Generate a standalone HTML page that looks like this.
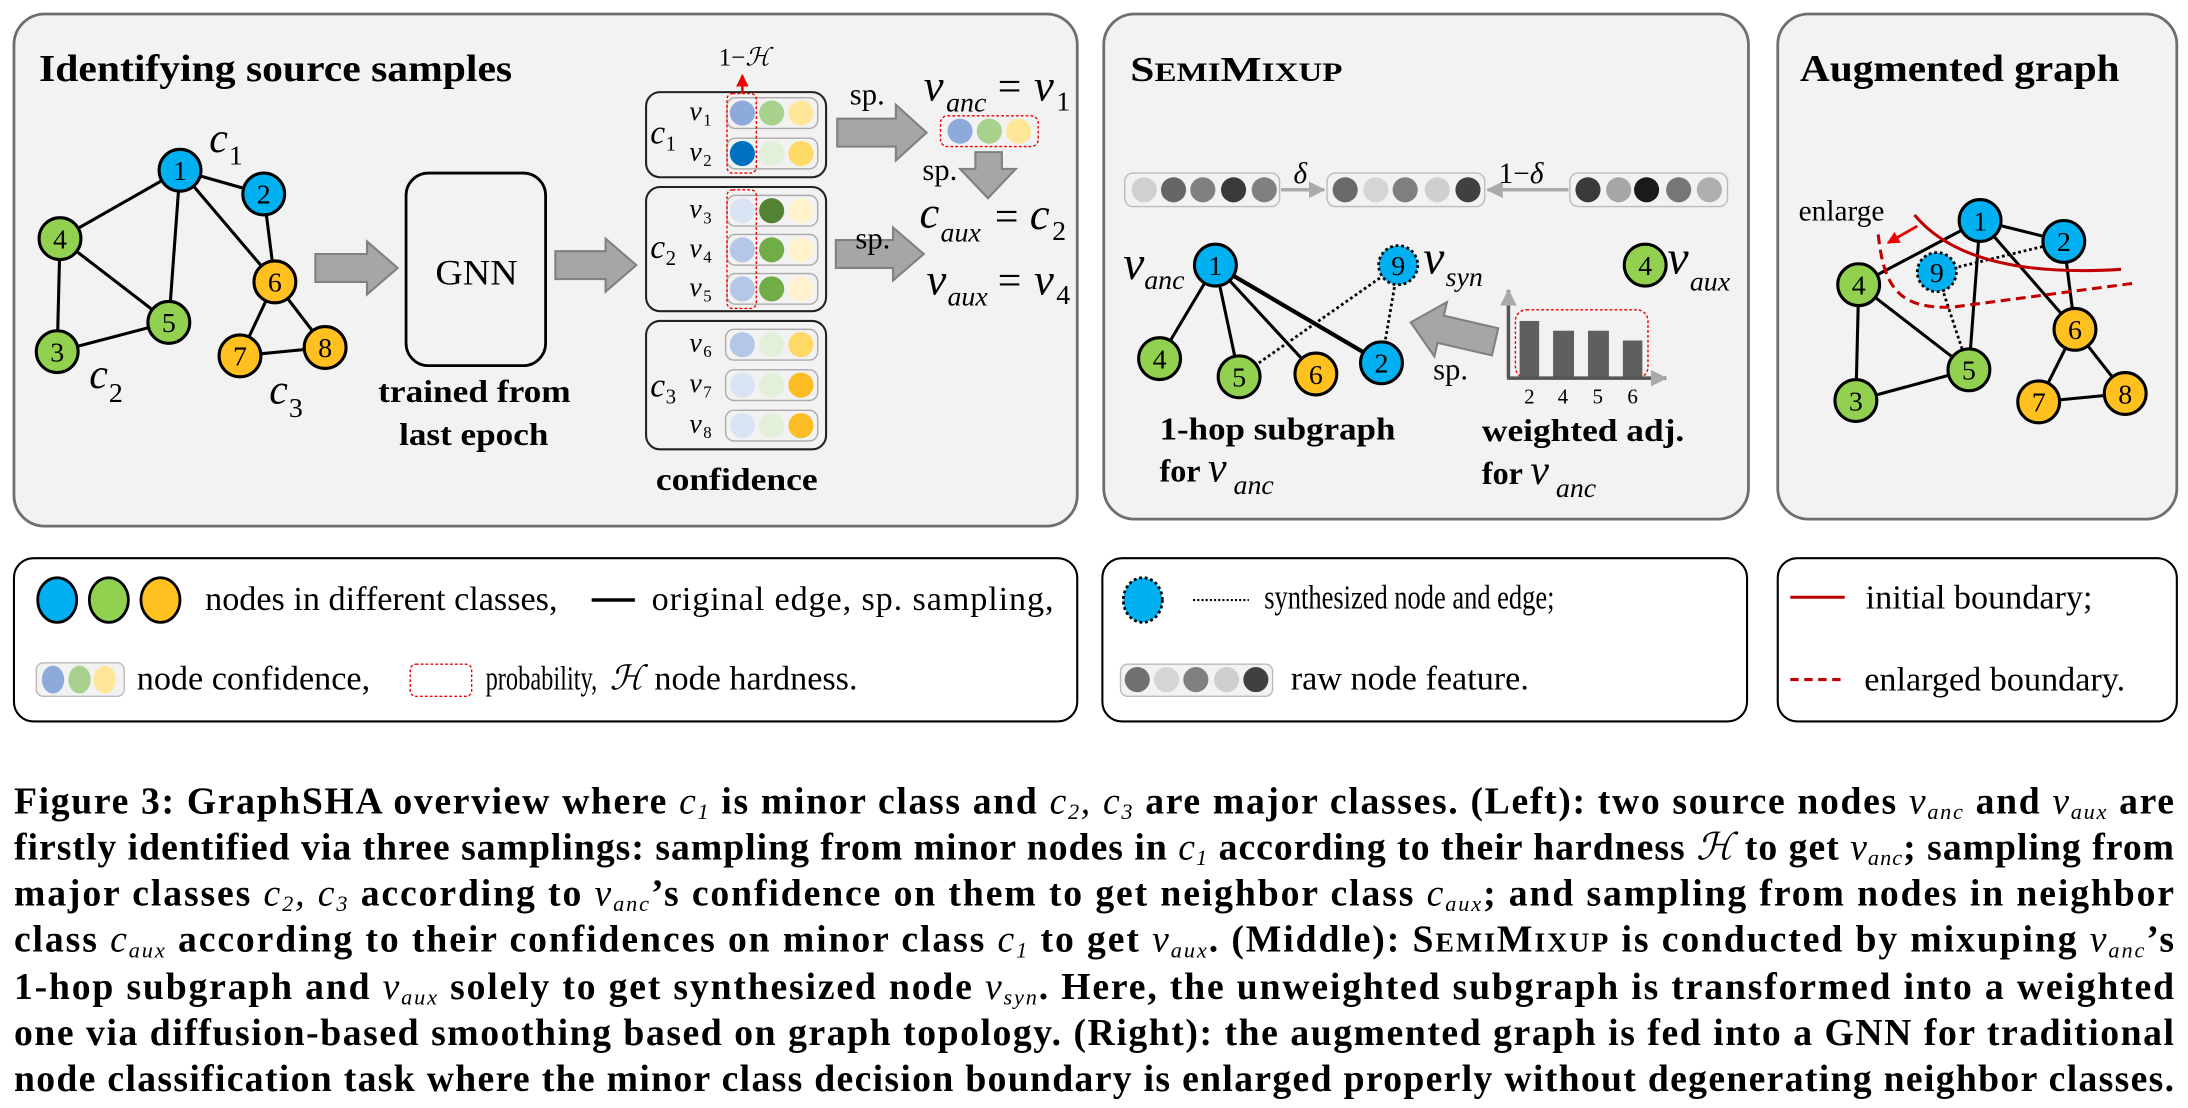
<!DOCTYPE html>
<html><head><meta charset="utf-8"><style>
html,body{margin:0;padding:0;background:#fff;}
svg{display:block;}
text{font-family:"Liberation Serif","DejaVu Serif",serif;fill:#000;}
.b{font-weight:bold;}
.i{font-style:italic;}
.m{font-style:italic;font-weight:normal;}
.s{font-size:16px;}
.nl{font-size:20px;text-anchor:middle;}
.lg{font-size:24.5px;}
</style></head><body>
<svg width="2188" height="1108" viewBox="0 0 1568 794" xmlns="http://www.w3.org/2000/svg" font-family="Liberation Serif, serif">
<defs>
<marker id="ga" markerUnits="userSpaceOnUse" markerWidth="12" markerHeight="12" refX="11" refY="6" orient="auto"><path d="M0,0 L12,6 L0,12 z" fill="#aaa"/></marker>
<marker id="ra" markerUnits="userSpaceOnUse" markerWidth="9" markerHeight="9" refX="8" refY="4.5" orient="auto"><path d="M0,0 L9,4.5 L0,9 z" fill="#e00"/></marker>
</defs>
<!-- panels -->
<rect x="10" y="10" width="762" height="367" rx="22" fill="#f2f2f2" stroke="#6e6e6e" stroke-width="2"/>
<rect x="791" y="10" width="462" height="362" rx="22" fill="#f2f2f2" stroke="#6e6e6e" stroke-width="2"/>
<rect x="1274" y="10" width="286" height="362" rx="22" fill="#f2f2f2" stroke="#6e6e6e" stroke-width="2"/>
<rect x="10" y="400" width="762" height="117" rx="14" fill="#fff" stroke="#000" stroke-width="1.5"/>
<rect x="790" y="400" width="462" height="117" rx="14" fill="#fff" stroke="#000" stroke-width="1.5"/>
<rect x="1274" y="400" width="286" height="117" rx="14" fill="#fff" stroke="#000" stroke-width="1.5"/>

<!-- Panel 1 -->
<text x="28" y="58" class="b" font-size="27" textLength="339" lengthAdjust="spacingAndGlyphs">Identifying source samples</text>
<g stroke="#000" stroke-width="2.2">
<line x1="129" y1="122" x2="43" y2="171"/><line x1="129" y1="122" x2="121" y2="231"/>
<line x1="129" y1="122" x2="189" y2="139"/><line x1="129" y1="122" x2="197" y2="202"/>
<line x1="189" y1="139" x2="197" y2="202"/><line x1="43" y1="171" x2="121" y2="231"/>
<line x1="43" y1="171" x2="41" y2="252"/><line x1="41" y1="252" x2="121" y2="231"/>
<line x1="197" y1="202" x2="172" y2="255"/><line x1="197" y1="202" x2="233" y2="249"/>
<line x1="172" y1="255" x2="233" y2="249"/>
</g>
<g stroke="#000" stroke-width="2.2">
<circle cx="129" cy="122" r="15" fill="#00b0f0"/><circle cx="189" cy="139" r="15" fill="#00b0f0"/>
<circle cx="43" cy="171" r="15" fill="#92d050"/><circle cx="121" cy="231" r="15" fill="#92d050"/>
<circle cx="41" cy="252" r="15" fill="#92d050"/><circle cx="197" cy="202" r="15" fill="#ffc020"/>
<circle cx="172" cy="255" r="15" fill="#ffc020"/><circle cx="233" cy="249" r="15" fill="#ffc020"/>
</g>
<g class="nl"><text x="129" y="129">1</text><text x="189" y="146">2</text><text x="43" y="178">4</text><text x="121" y="238">5</text><text x="41" y="259">3</text><text x="197" y="209">6</text><text x="172" y="262">7</text><text x="233" y="256">8</text></g>
<text x="150" y="109" font-size="30" class="i">c</text><text x="164" y="118" font-size="20">1</text>
<text x="64" y="278" font-size="30" class="i">c</text><text x="78" y="288" font-size="20">2</text>
<text x="193" y="289" font-size="30" class="i">c</text><text x="207" y="299" font-size="20">3</text>

<g fill="#a6a6a6" stroke="#808080" stroke-width="1.5">
<polygon points="226,182 263,182 263,173 285,192 263,211 263,202 226,202"/>
<polygon points="398,180 434,180 434,171 456,190 434,209 434,200 398,200"/>
<polygon points="600,85 642,85 642,75 664,95 642,115 642,105 600,105"/>
<polygon points="699,109 718,109 718,121 728,121 708,142 688,121 699,121"/>
<polygon points="599,172 640,172 640,163 662,182 640,201 640,192 599,192"/>
</g>
<rect x="291" y="124" width="100" height="138" rx="16" fill="none" stroke="#000" stroke-width="2"/>
<text x="312" y="204" font-size="26" textLength="59" lengthAdjust="spacingAndGlyphs">GNN</text>
<text x="271" y="288" font-size="23" class="b" textLength="138" lengthAdjust="spacingAndGlyphs">trained from</text>
<text x="286" y="319" font-size="23" class="b" textLength="107" lengthAdjust="spacingAndGlyphs">last epoch</text>

<!-- confidence -->
<g fill="none" stroke="#222" stroke-width="1.5">
<rect x="463" y="66" width="129" height="61" rx="10"/>
<rect x="463" y="134" width="129" height="89" rx="10"/>
<rect x="463" y="230" width="129" height="92" rx="10"/>
</g>
<g fill="#f2f2f2" stroke="#aaa" stroke-width="1">
<rect x="521" y="70" width="65" height="22" rx="6"/><rect x="521" y="99" width="65" height="22" rx="6"/>
<rect x="521" y="140" width="65" height="22" rx="6"/><rect x="521" y="168" width="65" height="22" rx="6"/><rect x="521" y="196" width="65" height="22" rx="6"/>
<rect x="520" y="236" width="66" height="22" rx="6"/><rect x="520" y="265" width="66" height="22" rx="6"/><rect x="520" y="294" width="66" height="22" rx="6"/>
</g>
<g>
<circle cx="532" cy="81" r="9" fill="#8eaadb"/><circle cx="553" cy="81" r="9" fill="#a9d18e"/><circle cx="574" cy="81" r="9" fill="#ffe699"/>
<circle cx="532" cy="110" r="9" fill="#0070c0"/><circle cx="553" cy="110" r="9" fill="#e2f0d9"/><circle cx="574" cy="110" r="9" fill="#ffd966"/>
<circle cx="532" cy="151" r="9" fill="#dae3f3"/><circle cx="553" cy="151" r="9" fill="#548235"/><circle cx="574" cy="151" r="9" fill="#fff2cc"/>
<circle cx="532" cy="179" r="9" fill="#b4c7e7"/><circle cx="553" cy="179" r="9" fill="#70ad47"/><circle cx="574" cy="179" r="9" fill="#fff2cc"/>
<circle cx="532" cy="207" r="9" fill="#b4c7e7"/><circle cx="553" cy="207" r="9" fill="#70ad47"/><circle cx="574" cy="207" r="9" fill="#fff2cc"/>
<circle cx="532" cy="247" r="9" fill="#b4c7e7"/><circle cx="553" cy="247" r="9" fill="#e2f0d9"/><circle cx="574" cy="247" r="9" fill="#ffd966"/>
<circle cx="532" cy="276" r="9" fill="#dae3f3"/><circle cx="553" cy="276" r="9" fill="#e2f0d9"/><circle cx="574" cy="276" r="9" fill="#fbbc24"/>
<circle cx="532" cy="305" r="9" fill="#dae3f3"/><circle cx="553" cy="305" r="9" fill="#e2f0d9"/><circle cx="574" cy="305" r="9" fill="#fbbc24"/>
</g>
<g fill="none" stroke="#e00" stroke-width="1" stroke-dasharray="2,1.5">
<rect x="521" y="67" width="21" height="57" rx="4"/>
<rect x="521" y="136" width="21" height="85" rx="4"/>
<rect x="674" y="83" width="70" height="22" rx="5"/>
<rect x="1086" y="222" width="95" height="49" rx="8"/>
</g>
<line x1="532" y1="67" x2="532" y2="54" stroke="#e00" stroke-width="1.8" marker-end="url(#ra)"/>
<text x="515" y="47" font-size="18">1−<tspan class="i">ℋ</tspan></text>
<g font-size="20" class="i">
<text x="494" y="86">v</text><text x="494" y="115">v</text><text x="494" y="156">v</text><text x="494" y="184">v</text><text x="494" y="212">v</text><text x="494" y="252">v</text><text x="494" y="281">v</text><text x="494" y="310">v</text>
</g>
<g font-size="12">
<text x="504" y="90">1</text><text x="504" y="119">2</text><text x="504" y="160">3</text><text x="504" y="188">4</text><text x="504" y="216">5</text><text x="504" y="256">6</text><text x="504" y="285">7</text><text x="504" y="314">8</text>
</g>
<g font-size="24" class="i"><text x="466" y="103">c</text><text x="466" y="185">c</text><text x="466" y="284">c</text></g>
<g font-size="15"><text x="477" y="108">1</text><text x="477" y="190">2</text><text x="477" y="289">3</text></g>
<text x="470" y="351" font-size="23" class="b" textLength="116" lengthAdjust="spacingAndGlyphs">confidence</text>
<text x="609" y="75" font-size="22">sp.</text>
<text x="661" y="129" font-size="22">sp.</text>
<text x="613" y="178" font-size="22">sp.</text>
<text x="662" y="72" font-size="32" class="i">v</text><text x="678" y="80" font-size="20" class="i">anc</text><text x="715" y="72" font-size="30">=</text><text x="741" y="72" font-size="32" class="i">v</text><text x="757" y="79" font-size="20">1</text>
<circle cx="688" cy="94" r="9" fill="#8eaadb"/><circle cx="709" cy="94" r="9" fill="#a9d18e"/><circle cx="730" cy="94" r="9" fill="#ffe699"/>
<text x="659" y="163" font-size="32" class="i">c</text><text x="674" y="173" font-size="20" class="i">aux</text><text x="713" y="165" font-size="30">=</text><text x="738" y="164" font-size="32" class="i">c</text><text x="754" y="172" font-size="20">2</text>
<text x="664" y="211" font-size="32" class="i">v</text><text x="679" y="219" font-size="20" class="i">aux</text><text x="715" y="211" font-size="30">=</text><text x="741" y="211" font-size="32" class="i">v</text><text x="757" y="218" font-size="20">4</text>

<!-- Panel 2 -->
<text x="810" y="58" class="b" font-size="25" textLength="152" lengthAdjust="spacingAndGlyphs">S<tspan font-size="19">EMI</tspan>M<tspan font-size="19">IXUP</tspan></text>
<g fill="#f2f2f2" stroke="#bbb" stroke-width="1">
<rect x="806" y="124" width="111" height="24" rx="6"/><rect x="951" y="124" width="113" height="24" rx="6"/><rect x="1125" y="124" width="113" height="24" rx="6"/>
</g>
<circle cx="820" cy="136" r="9" fill="#d0d0d0"/><circle cx="841" cy="136" r="9" fill="#666"/><circle cx="862" cy="136" r="9" fill="#808080"/><circle cx="884" cy="136" r="9" fill="#3a3a3a"/><circle cx="906" cy="136" r="9" fill="#808080"/>
<circle cx="964" cy="136" r="9" fill="#6a6a6a"/><circle cx="986" cy="136" r="9" fill="#d5d5d5"/><circle cx="1007" cy="136" r="9" fill="#7f7f7f"/><circle cx="1030" cy="136" r="9" fill="#cfcfcf"/><circle cx="1052" cy="136" r="9" fill="#404040"/>
<circle cx="1138" cy="136" r="9" fill="#3a3a3a"/><circle cx="1160" cy="136" r="9" fill="#a6a6a6"/><circle cx="1180" cy="136" r="9" fill="#1a1a1a"/><circle cx="1203" cy="136" r="9" fill="#767676"/><circle cx="1225" cy="136" r="9" fill="#afafaf"/>
<line x1="918" y1="136" x2="949" y2="136" stroke="#aaa" stroke-width="2.5" marker-end="url(#ga)"/>
<line x1="1124" y1="136" x2="1066" y2="136" stroke="#aaa" stroke-width="2.5" marker-end="url(#ga)"/>
<text x="927" y="131" font-size="21" class="i">δ</text>
<text x="1074" y="131" font-size="21">1−<tspan class="i">δ</tspan></text>

<g stroke="#000" stroke-width="2.2">
<line x1="871" y1="190" x2="831" y2="257"/><line x1="871" y1="190" x2="888" y2="270"/><line x1="871" y1="190" x2="943" y2="268"/><line x1="871" y1="190" x2="990" y2="260" stroke-width="3"/>
</g>
<g stroke="#000" stroke-width="2" stroke-dasharray="2,2"><line x1="1002" y1="190" x2="888" y2="270"/><line x1="1002" y1="190" x2="990" y2="260"/></g>
<g stroke="#000" stroke-width="2.2">
<circle cx="871" cy="190" r="15" fill="#00b0f0"/><circle cx="831" cy="257" r="15" fill="#92d050"/><circle cx="888" cy="270" r="15" fill="#92d050"/><circle cx="943" cy="268" r="15" fill="#ffc020"/><circle cx="990" cy="260" r="15" fill="#00b0f0"/><circle cx="1179" cy="190" r="15" fill="#92d050"/>
</g>
<circle cx="1002" cy="190" r="14" fill="#00b0f0" stroke="#000" stroke-width="2" stroke-dasharray="2,2"/>
<g class="nl"><text x="871" y="197">1</text><text x="831" y="264">4</text><text x="888" y="277">5</text><text x="943" y="275">6</text><text x="990" y="267">2</text><text x="1002" y="197">9</text><text x="1179" y="197">4</text></g>
<text x="805" y="200" font-size="34" class="i">v</text><text x="820" y="207" font-size="20" class="i">anc</text>
<text x="1020" y="196" font-size="34" class="i">v</text><text x="1036" y="205" font-size="20" class="i">syn</text>
<text x="1195" y="196" font-size="34" class="i">v</text><text x="1211" y="208" font-size="20" class="i">aux</text>
<g transform="translate(1011,231) rotate(13)"><polygon points="0,0 22,-20 22,-10 62,-10 62,10 22,10 22,20" fill="#a6a6a6" stroke="#808080" stroke-width="1.5"/></g>
<text x="1027" y="272" font-size="22">sp.</text>
<g fill="#5f5f5f"><rect x="1089" y="230" width="14" height="40"/><rect x="1113" y="237" width="15" height="33"/><rect x="1138" y="237" width="15" height="33"/><rect x="1163" y="244" width="14" height="26"/></g>
<line x1="1081" y1="271" x2="1081" y2="208" stroke="#555" stroke-width="2.5" marker-end="url(#ga)"/>
<line x1="1080" y1="271" x2="1194" y2="271" stroke="#555" stroke-width="2.5" marker-end="url(#ga)"/>
<g font-size="15" text-anchor="middle"><text x="1096" y="289" fill="#666">2</text><text x="1120" y="289" fill="#666">4</text><text x="1145" y="289" fill="#666">5</text><text x="1170" y="289" fill="#666">6</text></g>
<text x="831" y="315" font-size="23" class="b" textLength="169" lengthAdjust="spacingAndGlyphs">1-hop subgraph</text>
<text x="831" y="345" font-size="23" class="b">for <tspan class="m" font-size="30">v</tspan></text><text x="884" y="354" font-size="20" class="i">anc</text>
<text x="1062" y="316" font-size="23" class="b" textLength="145" lengthAdjust="spacingAndGlyphs">weighted adj.</text>
<text x="1062" y="347" font-size="23" class="b">for <tspan class="m" font-size="30">v</tspan></text><text x="1115" y="356" font-size="20" class="i">anc</text>

<!-- Panel 3 -->
<text x="1290" y="58" class="b" font-size="27" textLength="229" lengthAdjust="spacingAndGlyphs">Augmented graph</text>
<g stroke="#000" stroke-width="2.2">
<line x1="1419" y1="158" x2="1332" y2="204"/><line x1="1419" y1="158" x2="1479" y2="173"/><line x1="1419" y1="158" x2="1411" y2="265"/><line x1="1419" y1="158" x2="1487" y2="236"/>
<line x1="1479" y1="173" x2="1487" y2="236"/><line x1="1332" y1="204" x2="1411" y2="265"/><line x1="1332" y1="204" x2="1330" y2="287"/><line x1="1330" y1="287" x2="1411" y2="265"/>
<line x1="1487" y1="236" x2="1461" y2="288"/><line x1="1487" y1="236" x2="1523" y2="282"/><line x1="1461" y1="288" x2="1523" y2="282"/>
</g>
<g stroke="#000" stroke-width="2" stroke-dasharray="2,2"><line x1="1388" y1="195" x2="1479" y2="173"/><line x1="1388" y1="195" x2="1411" y2="265"/></g>
<path d="M1372,154 Q1410,200 1520,193" fill="none" stroke="#c00000" stroke-width="2.2"/>
<path d="M1346,168 C1350,205 1360,222 1400,220 L1529,203" fill="none" stroke="#c00000" stroke-width="2.2" stroke-dasharray="7,4"/>
<line x1="1374" y1="162" x2="1353" y2="174" stroke="#e00" stroke-width="2" marker-end="url(#ra)"/>
<text x="1289" y="158" font-size="21">enlarge</text>
<g stroke="#000" stroke-width="2.2">
<circle cx="1419" cy="158" r="15" fill="#00b0f0"/><circle cx="1479" cy="173" r="15" fill="#00b0f0"/><circle cx="1332" cy="204" r="15" fill="#92d050"/><circle cx="1411" cy="265" r="15" fill="#92d050"/><circle cx="1487" cy="236" r="15" fill="#ffc020"/><circle cx="1330" cy="287" r="15" fill="#92d050"/><circle cx="1461" cy="288" r="15" fill="#ffc020"/><circle cx="1523" cy="282" r="15" fill="#ffc020"/>
</g>
<circle cx="1388" cy="195" r="14" fill="#00b0f0" stroke="#000" stroke-width="2" stroke-dasharray="2,2"/>
<g class="nl"><text x="1419" y="165">1</text><text x="1479" y="180">2</text><text x="1332" y="211">4</text><text x="1411" y="272">5</text><text x="1487" y="243">6</text><text x="1330" y="294">3</text><text x="1461" y="295">7</text><text x="1523" y="289">8</text><text x="1388" y="202">9</text></g>

<!-- Legend 1 -->
<g stroke="#000" stroke-width="2"><ellipse cx="41" cy="430" rx="14" ry="16" fill="#00b0f0"/><ellipse cx="78" cy="430" rx="14" ry="16" fill="#92d050"/><ellipse cx="115" cy="430" rx="14" ry="16" fill="#ffc020"/></g>
<text x="147" y="437" class="lg">nodes in different classes,</text>
<line x1="424" y1="430" x2="455" y2="430" stroke="#000" stroke-width="2.5"/>
<text x="467" y="437" class="lg" textLength="288" lengthAdjust="spacing">original edge,  sp. sampling,</text>
<rect x="26" y="475" width="63" height="24" rx="5" fill="#f2f2f2" stroke="#bbb"/>
<ellipse cx="38" cy="487" rx="8" ry="10" fill="#8eaadb"/><ellipse cx="57" cy="487" rx="8" ry="10" fill="#a9d18e"/><ellipse cx="75" cy="487" rx="8" ry="10" fill="#ffe699"/>
<text x="98" y="494" class="lg">node confidence,</text>
<rect x="294" y="476" width="44" height="23" rx="4" fill="none" stroke="#e00" stroke-width="1" stroke-dasharray="2,1.5"/>
<text x="348" y="494" class="lg" textLength="80" lengthAdjust="spacingAndGlyphs">probability,</text>
<text x="437" y="494" class="lg i">ℋ</text>
<text x="469" y="494" class="lg">node hardness.</text>
<!-- Legend 2 -->
<ellipse cx="819" cy="430" rx="14" ry="16" fill="#00b0f0" stroke="#000" stroke-width="2" stroke-dasharray="2,2"/>
<line x1="855" y1="430" x2="895" y2="430" stroke="#000" stroke-width="1.5" stroke-dasharray="1.5,1.5"/>
<text x="906" y="436" class="lg" textLength="208" lengthAdjust="spacingAndGlyphs">synthesized node and edge;</text>
<rect x="803" y="476" width="109" height="23" rx="5" fill="#f2f2f2" stroke="#bbb"/>
<circle cx="815" cy="487" r="9" fill="#707070"/><circle cx="836" cy="487" r="9" fill="#d5d5d5"/><circle cx="857" cy="487" r="9" fill="#808080"/><circle cx="879" cy="487" r="9" fill="#cfcfcf"/><circle cx="900" cy="487" r="9" fill="#404040"/>
<text x="925" y="494" class="lg">raw node feature.</text>
<!-- Legend 3 -->
<line x1="1283" y1="428" x2="1322" y2="428" stroke="#c00000" stroke-width="2.2"/>
<text x="1337" y="436" class="lg">initial boundary;</text>
<line x1="1283" y1="487" x2="1322" y2="487" stroke="#c00000" stroke-width="2.2" stroke-dasharray="6,4"/>
<text x="1336" y="495" class="lg">enlarged boundary.</text>

<!-- Caption -->
<g class="b" font-size="27">
<text x="10" y="583" textLength="1548" lengthAdjust="spacing">Figure 3: GraphSHA overview where <tspan class="m">c</tspan><tspan class="s m" dy="4">1</tspan><tspan dy="-4"> is minor class and </tspan><tspan class="m">c</tspan><tspan class="s m" dy="4">2</tspan><tspan dy="-4" class="m">, c</tspan><tspan class="s m" dy="4">3</tspan><tspan dy="-4"> are major classes. (Left): two source nodes </tspan><tspan class="m">v</tspan><tspan class="s m" dy="4">anc</tspan><tspan dy="-4"> and </tspan><tspan class="m">v</tspan><tspan class="s m" dy="4">aux</tspan><tspan dy="-4"> are</tspan></text>
<text x="10" y="616" textLength="1548" lengthAdjust="spacing">firstly identified via three samplings: sampling from minor nodes in <tspan class="m">c</tspan><tspan class="s m" dy="4">1</tspan><tspan dy="-4"> according to their hardness </tspan><tspan class="m">ℋ</tspan><tspan> to get </tspan><tspan class="m">v</tspan><tspan class="s m" dy="4">anc</tspan><tspan dy="-4">; sampling from</tspan></text>
<text x="10" y="649" textLength="1548" lengthAdjust="spacing">major classes <tspan class="m">c</tspan><tspan class="s m" dy="4">2</tspan><tspan dy="-4" class="m">, c</tspan><tspan class="s m" dy="4">3</tspan><tspan dy="-4"> according to </tspan><tspan class="m">v</tspan><tspan class="s m" dy="4">anc</tspan><tspan dy="-4">’s confidence on them to get neighbor class </tspan><tspan class="m">c</tspan><tspan class="s m" dy="4">aux</tspan><tspan dy="-4">; and sampling from nodes in neighbor</tspan></text>
<text x="10" y="682" textLength="1548" lengthAdjust="spacing">class <tspan class="m">c</tspan><tspan class="s m" dy="4">aux</tspan><tspan dy="-4"> according to their confidences on minor class </tspan><tspan class="m">c</tspan><tspan class="s m" dy="4">1</tspan><tspan dy="-4"> to get </tspan><tspan class="m">v</tspan><tspan class="s m" dy="4">aux</tspan><tspan dy="-4">. (Middle): S</tspan><tspan font-size="20">EMI</tspan><tspan>M</tspan><tspan font-size="20">IXUP</tspan><tspan> is conducted by mixuping </tspan><tspan class="m">v</tspan><tspan class="s m" dy="4">anc</tspan><tspan dy="-4">’s</tspan></text>
<text x="10" y="716" textLength="1548" lengthAdjust="spacing">1-hop subgraph and <tspan class="m">v</tspan><tspan class="s m" dy="4">aux</tspan><tspan dy="-4"> solely to get synthesized node </tspan><tspan class="m">v</tspan><tspan class="s m" dy="4">syn</tspan><tspan dy="-4">. Here, the unweighted subgraph is transformed into a weighted</tspan></text>
<text x="10" y="749" textLength="1548" lengthAdjust="spacing">one via diffusion-based smoothing based on graph topology. (Right): the augmented graph is fed into a GNN for traditional</text>
<text x="10" y="782" textLength="1548" lengthAdjust="spacing">node classification task where the minor class decision boundary is enlarged properly without degenerating neighbor classes.</text>
</g>
</svg>
</body></html>
